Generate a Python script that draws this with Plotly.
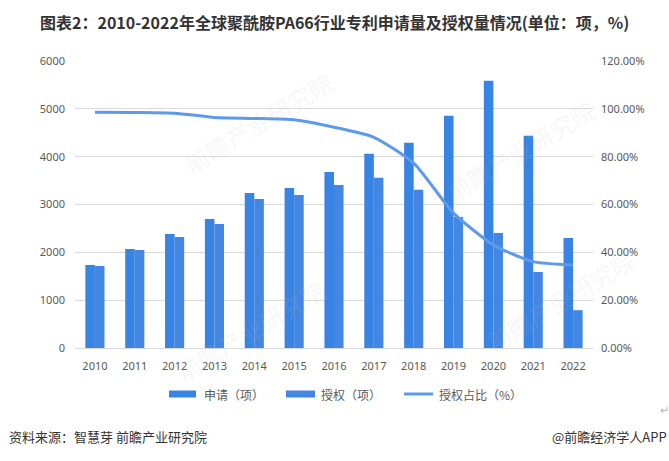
import plotly.graph_objects as go

years = ["2010", "2011", "2012", "2013", "2014", "2015", "2016",
         "2017", "2018", "2019", "2020", "2021", "2022"]
applications = [1736, 2071, 2385, 2699, 3243, 3347, 3682, 4059, 4290, 4854, 5586, 4435, 2301]
grants = [1715, 2050, 2322, 2594, 3117, 3201, 3410, 3557, 3306, 2741, 2406, 1590, 790]
grant_ratio = [98.6, 98.5, 98.2, 96.4, 96.0, 95.4, 92.3, 88.1, 77.3, 56.4, 43.1, 36.1, 34.7]

left_ticks = [0, 1000, 2000, 3000, 4000, 5000, 6000]
right_ticks = [0, 20, 40, 60, 80, 100, 120]
right_tick_labels = ["0.00%", "20.00%", "40.00%", "60.00%", "80.00%", "100.00%", "120.00%"]

series_names = ["申请（项）", "授权（项）", "授权占比（%）"]
colors = ["#3784E5", "#4487E2", "#5E9AEA"]

font_cjk = "Noto Sans CJK SC"
grey = "#595959"

W, H = 669, 461
L, R, T, B = 75, 593, 61, 348
PW, PH = R - L, B - T


def px(x):
    return (x - L) / PW


def py(y):
    return (B - y) / PH


fig = go.Figure()
fig.add_trace(go.Bar(x=years, y=applications, name=series_names[0],
                     marker=dict(color=colors[0], line=dict(width=0))))
fig.add_trace(go.Bar(x=years, y=grants, name=series_names[1],
                     marker=dict(color=colors[1], line=dict(width=0))))
fig.add_trace(go.Scatter(x=years, y=grant_ratio, name=series_names[2], yaxis="y2",
                         mode="lines", line=dict(color=colors[2], width=3, shape="spline",
                                                 smoothing=0.6)))

fig.update_layout(
    width=W, height=H,
    margin=dict(l=L, r=W - R, t=T, b=H - B),
    paper_bgcolor="white", plot_bgcolor="white",
    barmode="group", bargap=0.52, bargroupgap=0,
    font=dict(family=font_cjk, size=11, color=grey),
    showlegend=False,
    xaxis=dict(type="category", showgrid=False, showline=True, linecolor="#D9D9D9",
               ticks="", ticklabelstandoff=8,
               tickfont=dict(size=11, color=grey, family="Noto Sans")),
    yaxis=dict(range=[0, 6000], tickvals=left_ticks, showgrid=True, gridcolor="#D9D9D9",
               zeroline=False, showline=False, ticks="", ticklabelstandoff=9,
               tickfont=dict(size=11, color=grey, family="Noto Sans")),
    yaxis2=dict(range=[0, 120], tickvals=right_ticks, ticktext=right_tick_labels,
                overlaying="y", side="right", showgrid=False, zeroline=False, ticks="",
                ticklabelstandoff=7,
                tickfont=dict(size=11, color=grey, family="Noto Sans")),
)

# custom legend (wide swatches as in the reference)
legend_y = 394
swatches = [(169, 196, "rect", 202), (286, 315, "rect", 319), (404, 433, "line", 437)]
for (x0, x1, kind, tx), name, col in zip(swatches, series_names, colors):
    if kind == "rect":
        fig.add_shape(type="rect", xref="paper", yref="paper",
                      x0=px(x0), x1=px(x1), y0=py(legend_y + 3.5), y1=py(legend_y - 3.5),
                      fillcolor=col, line=dict(width=0))
    else:
        fig.add_shape(type="line", xref="paper", yref="paper",
                      x0=px(x0), x1=px(x1), y0=py(legend_y), y1=py(legend_y),
                      line=dict(color=col, width=3))
    fig.add_annotation(text=name, xref="paper", yref="paper", x=px(tx), xanchor="left",
                       y=py(legend_y), yanchor="middle", showarrow=False,
                       font=dict(size=12, color=grey, family=font_cjk))

fig.add_annotation(text="<b>图表2：2010-2022年全球聚酰胺PA66行业专利申请量及授权量情况(单位：项，%)</b>",
                   xref="paper", yref="paper", x=px(334), xanchor="center",
                   y=py(22), yanchor="middle", showarrow=False,
                   font=dict(size=16, color="#333333", family=font_cjk))
fig.add_annotation(text="资料来源：智慧芽 前瞻产业研究院", xref="paper", yref="paper",
                   x=px(7), xanchor="left", y=py(437), yanchor="middle",
                   showarrow=False, font=dict(size=13, color="#333333", family=font_cjk))
fig.add_annotation(text="@前瞻经济学人APP", xref="paper", yref="paper",
                   x=px(669), xanchor="right", y=py(437), yanchor="middle",
                   showarrow=False, font=dict(size=13, color="#333333", family=font_cjk))
fig.add_annotation(text="↵", xref="paper", yref="paper",
                   x=px(664), xanchor="center", y=py(409), yanchor="middle",
                   showarrow=False, font=dict(size=11, color="#BBBBBB", family=font_cjk))

# faint watermarks
for wx, wy in [(258, 122), (250, 330), (520, 150), (560, 300)]:
    fig.add_annotation(text="前瞻产业研究院", xref="paper", yref="paper", x=px(wx), y=py(wy),
                       xanchor="center", yanchor="middle",
                       showarrow=False, textangle=-31,
                       font=dict(size=24, color="rgba(190,190,190,0.13)", family=font_cjk))

fig.write_html("out.html", config={"displayModeBar": False},
               post_script="document.body.style.margin='0';")
